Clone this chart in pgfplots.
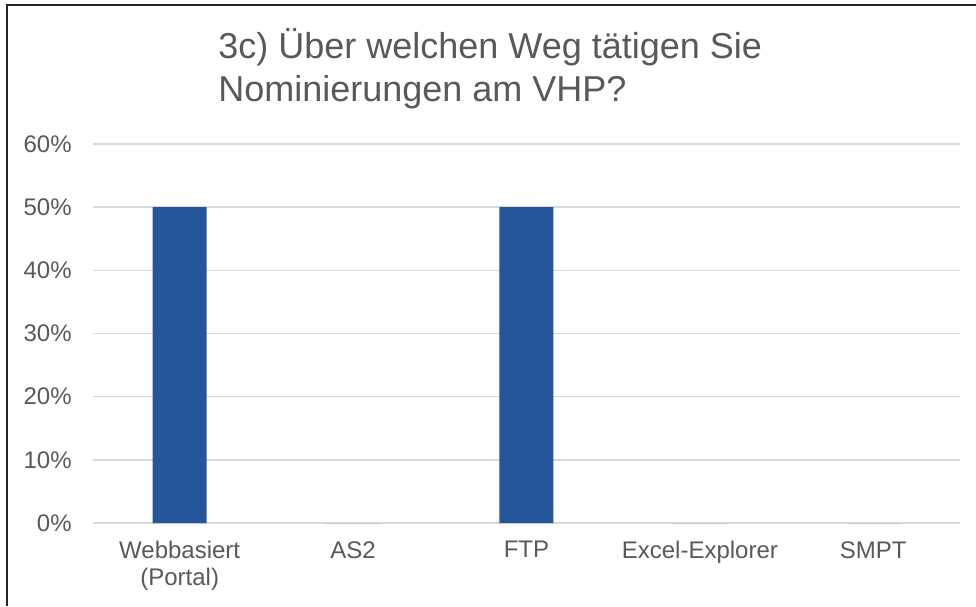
\documentclass[border=0pt]{standalone}
\usepackage{fontspec}
\setmainfont{Liberation Sans}
\usepackage{pgfplots}
\pgfplotsset{compat=1.18}
\definecolor{txt}{HTML}{595959}
\definecolor{gridc}{HTML}{D9D9D9}
\definecolor{barc}{HTML}{26569A}
\begin{document}
\begin{tikzpicture}[x=1pt,y=1pt]
\useasboundingbox (0,0) rectangle (488,303);
\draw[line width=1pt, black!85] (3.5,0) -- (3.5,300.5) -- (490,300.5);
\node[anchor=base west, inner sep=0pt, text=txt, font=\fontsize{18}{21.5}\selectfont] at (109,273.5) {3c) Über welchen Weg tätigen Sie};
\node[anchor=base west, inner sep=0pt, text=txt, font=\fontsize{18}{21.5}\selectfont] at (109,252) {Nominierungen am VHP?};
\begin{axis}[
  at={(46.5pt,41.5pt)}, anchor=south west,
  scale only axis, width=433.5pt, height=189.5pt,
  xmin=-0.5, xmax=4.5, ymin=0, ymax=0.6,
  xtick={0,1,2,3,4},
  xticklabels={Webbasiert\\(Portal),AS2,FTP,Excel-Explorer,SMPT},
  ytick={0,0.1,0.2,0.3,0.4,0.5,0.6},
  yticklabels={0\%,10\%,20\%,30\%,40\%,50\%,60\%},
  axis line style={draw=none},
  major tick length=0pt,
  xmajorgrids=false,
  ymajorgrids=true,
  major grid style={draw=gridc, line width=0.75pt},
  tick label style={text=txt, font=\fontsize{12}{13.5}\selectfont},
  xticklabel style={align=center, inner sep=0pt, yshift=-9pt},
  yticklabel style={inner sep=0pt, xshift=-10.5pt},
  clip=false,
]
\addplot[ybar, bar width=27pt, fill=barc, draw=none] coordinates {(0,0.5) (1,0) (2,0.5) (3,0) (4,0)};
\end{axis}
\end{tikzpicture}
\end{document}
